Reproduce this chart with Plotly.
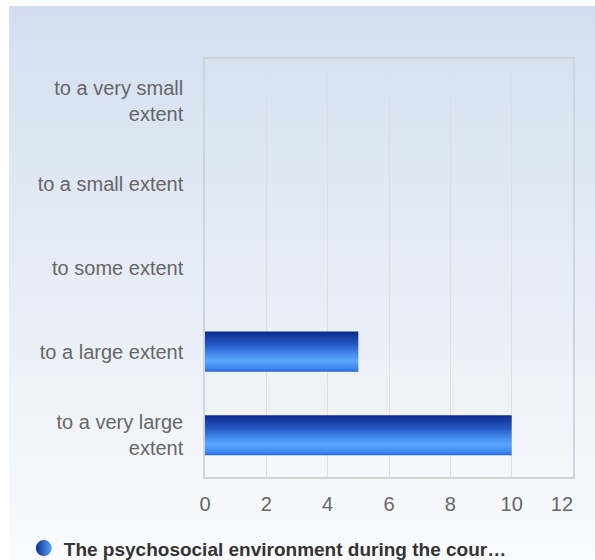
import base64
import plotly.graph_objects as go

# Survey answers, listed top to bottom as shown on the chart
categories = [
    "to a very small<br>extent",
    "to a small extent",
    "to some extent",
    "to a large extent",
    "to a very large<br>extent",
]
counts = [0, 0, 0, 5, 10]
x_ticks = [0, 2, 4, 6, 8, 10, 12]
x_tick_labels = ["0", "2", "4", "6", "8", "10", "12\u00a0\u00a0\u00a0\u00a0"]
series_name = "The psychosocial environment during the cour\u2026"

FONT = "Liberation Sans, Arial, sans-serif"
BAR_HALF = 0.24  # half of the bar thickness, in category units

# vertical gradient of each bar, bottom (0) to top (1)
bar_gradient = [
    [0.0, "#2566d4"],
    [0.08, "#3d86ef"],
    [0.27, "#5aa6ff"],
    [0.42, "#468ef2"],
    [0.68, "#2458c4"],
    [1.0, "#0b2a8a"],
]

# first category sits at the top
positions = list(range(len(categories) - 1, -1, -1))

fig = go.Figure()

for pos, value in zip(positions, counts):
    y0, y1 = pos - BAR_HALF, pos + BAR_HALF
    fig.add_trace(go.Scatter(
        x=[0, value, value, 0, 0],
        y=[y0, y0, y1, y1, y0],
        mode="lines",
        line=dict(width=0),
        fill="toself",
        fillgradient=dict(type="vertical", colorscale=bar_gradient),
        hoverinfo="skip",
        showlegend=False,
    ))

# legend entry with a shaded sphere-like marker
fig.add_trace(go.Scatter(
    x=[None], y=[None],
    mode="markers",
    name=series_name,
    marker=dict(size=18, color="#0d2f94",
                gradient=dict(type="horizontal", color="#5aa2f8"),
                line=dict(width=0)),
    hoverinfo="skip",
))

# soft blue-to-white background panel
svg = (
    '<svg xmlns="http://www.w3.org/2000/svg" width="586" height="554" '
    'viewBox="0 0 586 554" preserveAspectRatio="none">'
    '<defs><linearGradient id="bg" x1="0" y1="0" x2="0" y2="1">'
    '<stop offset="0" stop-color="#d3dff0"/>'
    '<stop offset="1" stop-color="#fafbfd"/>'
    '</linearGradient></defs>'
    '<rect width="586" height="554" fill="url(#bg)"/></svg>'
)
bg_src = "data:image/svg+xml;base64," + base64.b64encode(svg.encode()).decode()

W, H = 595, 560
ML, MR, MT, MB = 205, 22, 59, 83
PW, PH = W - ML - MR, H - MT - MB

fig.update_layout(
    width=W, height=H, autosize=False,
    margin=dict(l=ML, r=MR, t=MT, b=MB, pad=0, autoexpand=False),
    paper_bgcolor="white",
    plot_bgcolor="rgba(0,0,0,0)",
    font=dict(family=FONT, size=20, color="#666666"),
    images=[dict(
        source=bg_src, xref="paper", yref="paper",
        x=(9 - ML) / PW, y=(H - MB - 6) / PH,
        sizex=(W - 9) / PW, sizey=(H - 6) / PH,
        xanchor="left", yanchor="top",
        sizing="stretch", layer="below",
    )],
    xaxis=dict(
        range=[0, 12],
        tickvals=x_ticks, ticktext=x_tick_labels,
        showgrid=True, gridcolor="#dedede", gridwidth=1,
        showline=True, linecolor="#d2d2d2", linewidth=1.5, mirror=True,
        zeroline=False,
        tickfont=dict(size=20, color="#666666"),
        ticklabelstandoff=8,
        ticklabeloverflow="allow",
        automargin=False,
        fixedrange=True,
    ),
    yaxis=dict(
        range=[-0.5, 4.5],
        tickvals=positions, ticktext=categories,
        showgrid=False,
        showline=True, linecolor="#cdd4e2", linewidth=1.5, mirror=True,
        zeroline=False,
        tickfont=dict(size=20, color="#666666"),
        ticklabelstandoff=16,
        automargin=False,
        fixedrange=True,
    ),
    showlegend=True,
    legend=dict(
        orientation="h",
        xref="container", yref="container",
        x=0.04, xanchor="left",
        y=0.021, yanchor="middle",
        bgcolor="rgba(0,0,0,0)",
        font=dict(family=FONT, size=19, color="#333333", weight="bold"),
    ),
)

fig.write_html("out.html")
